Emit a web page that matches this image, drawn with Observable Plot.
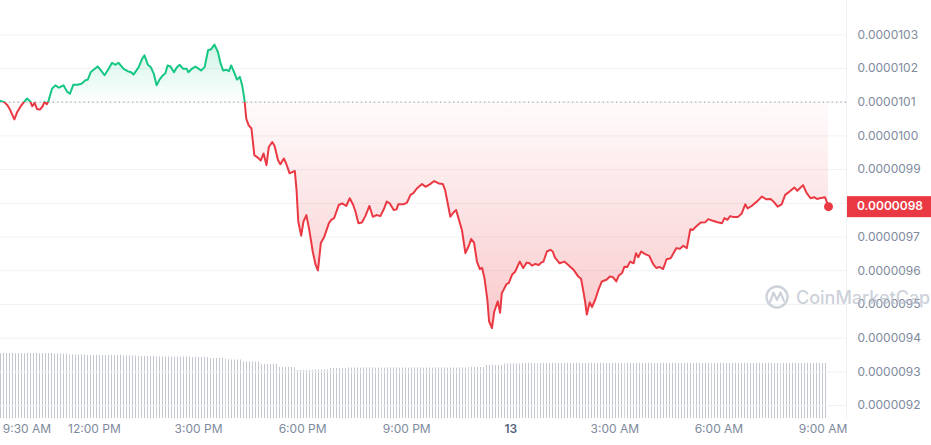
<!DOCTYPE html>
<html>
<head>
<meta charset="utf-8">
<script src="https://cdn.jsdelivr.net/npm/d3@7"></script>
<script src="https://cdn.jsdelivr.net/npm/@observablehq/plot@0.6"></script>
<style>
html, body { margin: 0; padding: 0; background: #fff; }
#wrap { position: relative; width: 931px; height: 445px; overflow: hidden; font-family: Inter, "Noto Sans", sans-serif; }
#wrap > svg { position: absolute; left: 0; top: 0; }
</style>
</head>
<body>
<svg width="0" height="0" style="position:absolute">
  <defs>
    <pattern id="volStripes" patternUnits="userSpaceOnUse" x="0" y="0" width="3" height="8">
      <rect x="0" y="0" width="1" height="8" fill="#c3c8d0"></rect>
    </pattern>
  </defs>
</svg>
<div id="wrap"></div>
<script>
// ---- data ----
const startTime = Date.UTC(2024, 0, 12, 9, 17, 30);
const minutesFromStart = [
  0,6,12,17,24,29,35,41,46,51,
  55,59,63,68,73,76,80,83,89,95,
  101,109,115,120,126,133,140,147,151,156,
  161,168,173,180,187,193,199,204,213,220,
  226,230,239,245,249,255,260,265,270,275,
  281,285,289,294,300,305,310,316,322,325,
  331,337,343,347,353,359,364,370,376,380,
  385,391,395,399,405,409,414,418,422,425,
  429,434,439,446,450,455,460,464,470,474,
  480,484,490,494,500,509,512,515,520,524,
  529,534,540,545,549,554,560,568,572,577,
  585,591,598,604,610,614,619,625,631,638,
  644,650,657,663,668,673,680,685,688,697,
  703,709,714,720,729,735,743,750,758,765,
  769,774,778,783,788,792,798,804,810,814,
  819,824,829,833,837,842,845,850,854,860,
  864,867,870,875,879,885,890,898,904,910,
  915,919,925,931,935,939,945,951,955,959,
  967,975,982,991,999,1004,1007,1011,1014,1019,
  1023,1029,1034,1040,1048,1054,1059,1065,1069,1075,
  1079,1084,1089,1095,1099,1103,1108,1115,1122,1128,
  1134,1140,1146,1152,1159,1169,1175,1181,1187,1193,
  1197,1203,1211,1219,1224,1232,1240,1248,1252,1257,
  1262,1268,1275,1282,1288,1292,1299,1308,1317,1324,
  1332,1337,1344,1351,1357,1364,1373,1378,1388,1394,
  1401,1407,1412,1417,1426,1432
];
const prices = [
  1.0104e-5,1.0101e-5,1.0091e-5,1.0076e-5,1.0049e-5,1.0071e-5,1.0088e-5,1.0101e-5,1.0111e-5,1.0103e-5,
  1.0088e-5,1.0098e-5,1.0080e-5,1.0078e-5,1.0088e-5,1.0101e-5,1.0094e-5,1.0104e-5,1.0140e-5,1.0150e-5,
  1.0143e-5,1.0150e-5,1.0132e-5,1.0125e-5,1.0152e-5,1.0152e-5,1.0155e-5,1.0165e-5,1.0167e-5,1.0189e-5,
  1.0196e-5,1.0206e-5,1.0196e-5,1.0180e-5,1.0199e-5,1.0217e-5,1.0211e-5,1.0217e-5,1.0199e-5,1.0192e-5,
  1.0189e-5,1.0182e-5,1.0204e-5,1.0229e-5,1.0239e-5,1.0211e-5,1.0204e-5,1.0185e-5,1.0150e-5,1.0167e-5,
  1.0180e-5,1.0185e-5,1.0209e-5,1.0206e-5,1.0189e-5,1.0204e-5,1.0211e-5,1.0199e-5,1.0199e-5,1.0189e-5,
  1.0199e-5,1.0206e-5,1.0199e-5,1.0194e-5,1.0204e-5,1.0254e-5,1.0257e-5,1.0271e-5,1.0249e-5,1.0219e-5,
  1.0194e-5,1.0196e-5,1.0192e-5,1.0209e-5,1.0185e-5,1.0167e-5,1.0175e-5,1.0150e-5,1.0106e-5,1.0051e-5,
  1.0032e-5,1.0022e-5,9.943e-6,9.934e-6,9.927e-6,9.948e-6,9.913e-6,9.967e-6,9.982e-6,9.970e-6,
  9.928e-6,9.916e-6,9.933e-6,9.918e-6,9.889e-6,9.896e-6,9.839e-6,9.746e-6,9.704e-6,9.746e-6,
  9.765e-6,9.721e-6,9.657e-6,9.617e-6,9.601e-6,9.682e-6,9.701e-6,9.741e-6,9.751e-6,9.756e-6,
  9.795e-6,9.800e-6,9.792e-6,9.815e-6,9.795e-6,9.775e-6,9.741e-6,9.743e-6,9.762e-6,9.792e-6,
  9.760e-6,9.765e-6,9.762e-6,9.783e-6,9.805e-6,9.800e-6,9.780e-6,9.782e-6,9.797e-6,9.797e-6,
  9.802e-6,9.825e-6,9.830e-6,9.844e-6,9.857e-6,9.849e-6,9.857e-6,9.866e-6,9.859e-6,9.857e-6,
  9.839e-6,9.795e-6,9.760e-6,9.772e-6,9.780e-6,9.756e-6,9.721e-6,9.652e-6,9.674e-6,9.694e-6,
  9.683e-6,9.627e-6,9.605e-6,9.608e-6,9.578e-6,9.514e-6,9.450e-6,9.430e-6,9.479e-6,9.509e-6,
  9.475e-6,9.534e-6,9.543e-6,9.560e-6,9.563e-6,9.589e-6,9.597e-6,9.627e-6,9.608e-6,9.624e-6,
  9.622e-6,9.615e-6,9.620e-6,9.617e-6,9.624e-6,9.627e-6,9.657e-6,9.662e-6,9.657e-6,9.639e-6,
  9.622e-6,9.627e-6,9.617e-6,9.603e-6,9.583e-6,9.576e-6,9.549e-6,9.509e-6,9.470e-6,9.506e-6,
  9.492e-6,9.516e-6,9.543e-6,9.568e-6,9.573e-6,9.583e-6,9.581e-6,9.568e-6,9.585e-6,9.593e-6,
  9.612e-6,9.611e-6,9.627e-6,9.622e-6,9.652e-6,9.640e-6,9.657e-6,9.649e-6,9.644e-6,9.622e-6,
  9.608e-6,9.611e-6,9.605e-6,9.634e-6,9.637e-6,9.667e-6,9.665e-6,9.674e-6,9.667e-6,9.723e-6,
  9.721e-6,9.731e-6,9.743e-6,9.744e-6,9.753e-6,9.748e-6,9.744e-6,9.741e-6,9.756e-6,9.751e-6,
  9.762e-6,9.759e-6,9.759e-6,9.770e-6,9.797e-6,9.785e-6,9.792e-6,9.805e-6,9.820e-6,9.812e-6,
  9.813e-6,9.805e-6,9.790e-6,9.797e-6,9.825e-6,9.834e-6,9.847e-6,9.837e-6,9.854e-6,9.831e-6,
  9.815e-6,9.818e-6,9.813e-6,9.815e-6,9.818e-6,9.790e-6
];
const openPrice = 1.01e-5;            // dotted reference line
const yTicks = [9.2e-6, 9.3e-6, 9.4e-6, 9.5e-6, 9.6e-6, 9.7e-6, 9.8e-6, 9.9e-6, 1.0e-5, 1.01e-5, 1.02e-5, 1.03e-5];
const yTickLabels = ["0.0000092","0.0000093","0.0000094","0.0000095","0.0000096","0.0000097","0.0000098","0.0000099","0.0000100","0.0000101","0.0000102","0.0000103"];
const xTickTimes = ["2024-01-12T09:30Z","2024-01-12T12:00Z","2024-01-12T15:00Z","2024-01-12T18:00Z","2024-01-12T21:00Z","2024-01-13T00:00Z","2024-01-13T03:00Z","2024-01-13T06:00Z","2024-01-13T09:00Z"];
const xTickLabels = ["9:30 AM","12:00 PM","3:00 PM","6:00 PM","9:00 PM","13","3:00 AM","6:00 AM","9:00 AM"];
const volumeMinutes = [0,30,60,90,120,150,180,210,240,270,300,330,360,390,420,450,480,510,540,570,600,630,660,690,720,750,780,810,840,870,900,930,960,990,1020,1050,1080,1110,1140,1170,1200,1230,1260,1290,1320,1350,1380,1410];
const volumes = [65,65,65,64.5,63.5,63,63,62.5,62,61.5,61.5,61,60,58.5,56.5,54,51,48,48.5,50,50.5,50.5,50.5,50.5,50.5,50.5,50.5,51,53,54.5,55,55,55,55,55,55,55,55,55,55,55,55,55,55,55,55,55,55];

// ---- build ----
const GREEN = "#16c784", RED = "#ea3943", TXT = "#808a9d";
const FONT = "Inter, 'Noto Sans', sans-serif";
const data = minutesFromStart.map((m, i) => ({t: new Date(startTime + m * 60000), p: prices[i]}));
const first = data[0].t, last = data[data.length - 1].t;
const lastPrice = prices[prices.length - 1];
const lastLabel = d3.format(".7f")(lastPrice);
const volData = volumeMinutes.map((m, i) => ({
  t1: new Date(startTime + m * 60000),
  t2: new Date(startTime + Math.min(m + 30, minutesFromStart[minutesFromStart.length - 1]) * 60000),
  v: volumes[i]
}));
const xTicks = xTickTimes.map(s => new Date(s));

const W = 931, H = 445, MR = 85, MB = 27;
const xScale = {type: "utc", domain: [first, last], range: [0, 828], axis: null};

const volChart = Plot.plot({
  width: W, height: H, marginTop: 0, marginBottom: MB, marginLeft: 0, marginRight: MR,
  style: {background: "white"},
  x: xScale,
  y: {domain: [0, 80], range: [418, 338], axis: null},
  marks: [
    Plot.rect(volData, {x1: "t1", x2: "t2", y1: 0, y2: "v", fill: "url(#volStripes)"})
  ]
});

const chart = Plot.plot({
  width: W, height: H, marginTop: 0, marginBottom: MB, marginLeft: 0, marginRight: MR,
  style: {background: "transparent", fontFamily: FONT, overflow: "visible"},
  x: xScale,
  y: {domain: [9.2e-6, 1.03e-5], range: [405, 34.3], axis: null},
  marks: [
    Plot.ruleY(yTicks, {stroke: "#eff2f5", strokeWidth: 1}),
    Plot.ruleY([openPrice], {stroke: "#a3a9b3", strokeDasharray: "1.2,3.2", strokeWidth: 1.2}),
    Plot.areaY(data, {x: "t", y1: openPrice, y2: "p", fill: "url(#areaGrad)"}),
    Plot.line(data, {x: "t", y: "p", stroke: "url(#lineGrad)", strokeWidth: 2, strokeLinejoin: "round", strokeLinecap: "round"}),
    Plot.dot([data[data.length - 1]], {x: "t", y: "p", r: 4.5, fill: RED}),
    // tick labels (the one hidden under the last-price tag is skipped)
    Plot.text(yTicks, {filter: (d, i) => yTickLabels[i] !== lastLabel, y: d => d, text: (d, i) => yTickLabels[i], frameAnchor: "right", textAnchor: "start", dx: 11, fill: TXT, fontSize: 12}),
    Plot.text(xTicks, {filter: (d, i) => i === 0, x: d => d, text: (d, i) => xTickLabels[i], frameAnchor: "bottom", textAnchor: "start", dx: -5, dy: 14, fill: TXT, fontSize: 12}),
    Plot.text(xTicks, {filter: (d, i) => i > 0 && xTickLabels[i] !== "13", x: d => d, text: (d, i) => xTickLabels[i], frameAnchor: "bottom", dy: 14, fill: TXT, fontSize: 12}),
    Plot.text(xTicks, {filter: (d, i) => xTickLabels[i] === "13", x: d => d, text: (d, i) => xTickLabels[i], frameAnchor: "bottom", dy: 14, fill: "#58667e", fontSize: 12, fontWeight: 600})
  ]
});

const wrap = document.getElementById("wrap");
wrap.appendChild(volChart);
wrap.appendChild(chart);

// gradients positioned with the chart's own y scale
const ys = chart.scale("y");
const yTop = ys.apply(d3.max(prices)), yBot = ys.apply(d3.min(prices)), yBase = ys.apply(openPrice);
const off = (yBase - yTop) / (yBot - yTop);
const svg = d3.select(chart);
const defs = svg.insert("defs", ":first-child");
const lg = defs.append("linearGradient").attr("id", "lineGrad").attr("gradientUnits", "userSpaceOnUse")
  .attr("x1", 0).attr("x2", 0).attr("y1", yTop).attr("y2", yBot);
lg.append("stop").attr("offset", 0).attr("stop-color", GREEN);
lg.append("stop").attr("offset", off).attr("stop-color", GREEN);
lg.append("stop").attr("offset", off).attr("stop-color", RED);
lg.append("stop").attr("offset", 1).attr("stop-color", RED);
const ag = defs.append("linearGradient").attr("id", "areaGrad").attr("gradientUnits", "userSpaceOnUse")
  .attr("x1", 0).attr("x2", 0).attr("y1", yTop).attr("y2", yBot);
ag.append("stop").attr("offset", 0).attr("stop-color", GREEN).attr("stop-opacity", 0.2);
ag.append("stop").attr("offset", off).attr("stop-color", GREEN).attr("stop-opacity", 0.01);
ag.append("stop").attr("offset", off).attr("stop-color", RED).attr("stop-opacity", 0.02);
ag.append("stop").attr("offset", 1).attr("stop-color", RED).attr("stop-opacity", 0.27);

// right edge line of plot area
const xr = W - MR;
svg.append("line").attr("x1", xr + 0.5).attr("x2", xr + 0.5).attr("y1", 0).attr("y2", H - MB)
  .attr("stroke", "#eff2f5");

// last-price tag
const yLast = ys.apply(lastPrice);
svg.append("rect").attr("x", xr + 1).attr("y", yLast - 10).attr("width", W - xr).attr("height", 21).attr("fill", RED);
svg.append("text").attr("x", xr + 11).attr("y", yLast + 0.5).attr("dominant-baseline", "middle")
  .attr("text-anchor", "start")
  .attr("fill", "#fff").attr("font-size", 12).attr("font-weight", 600)
  .attr("font-family", FONT)
  .text(lastLabel);

// watermark
const wm = svg.append("g").attr("opacity", 0.7);
wm.append("circle").attr("cx", 777).attr("cy", 297).attr("r", 10.5).attr("fill", "none").attr("stroke", "#b9c0cc").attr("stroke-width", 2.4);
wm.append("path").attr("d", "M770,302 L773.5,292.5 L777,300 L780.5,292.5 L784,301").attr("fill", "none").attr("stroke", "#b9c0cc").attr("stroke-width", 2.2).attr("stroke-linejoin", "round").attr("stroke-linecap", "round");
wm.append("text").attr("x", 796).attr("y", 303.5).attr("text-anchor", "start").attr("fill", "#b9c0cc").attr("font-size", 18).attr("font-weight", 500)
  .attr("font-family", FONT).text("CoinMarketCap");
</script>
</body>
</html>
